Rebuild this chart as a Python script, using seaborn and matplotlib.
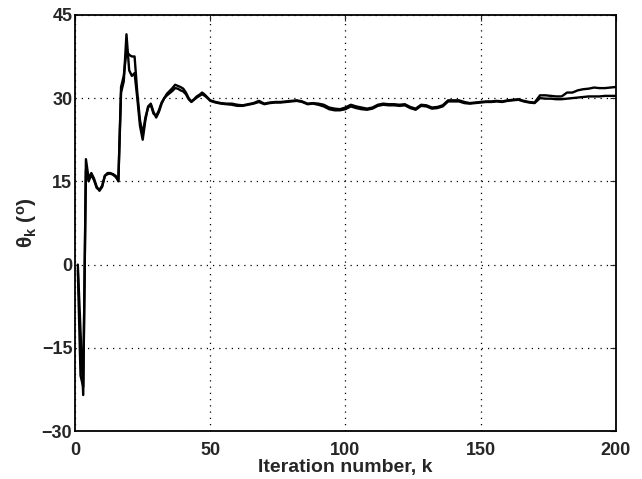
import numpy as np
import pandas as pd
import matplotlib
matplotlib.use('Agg')
import matplotlib.pyplot as plt
import seaborn as sns

# iteration numbers: every step up to 50, then every second one
k_early = list(range(1, 51))
k_late = list(range(52, 201, 2))

# estimate 1 (theta_k in degrees)
theta1_early = [0.0, -12.0, -23.5, 19.0, 15.5, 16.5, 15.5, 14.0, 13.3, 14.0,
                16.0, 16.5, 16.5, 16.3, 16.0, 15.0, 31.0, 33.0, 41.5, 35.0,
                34.0, 34.5, 30.0, 25.0, 22.5, 26.0, 28.5, 29.0, 27.5, 26.5,
                27.5, 29.0, 30.0, 30.8, 31.3, 31.8, 32.4, 32.2, 32.0, 31.7,
                31.0, 30.0, 29.4, 29.8, 30.3, 30.6, 31.0, 30.6, 30.1, 29.6]
theta1_late = [29.3, 29.1, 29.0, 29.0, 28.8, 28.7, 28.9, 29.1, 29.5, 29.0,
               29.2, 29.3, 29.3, 29.4, 29.5, 29.6, 29.4, 29.0, 29.1, 29.0,
               28.8, 28.3, 28.1, 28.0, 28.3, 28.8, 28.5, 28.3, 28.1, 28.3,
               28.8, 29.0, 28.9, 28.9, 28.8, 28.9, 28.4, 28.1, 28.8, 28.7,
               28.3, 28.4, 28.7, 29.6, 29.6, 29.6, 29.3, 29.1, 29.2, 29.3,
               29.4, 29.4, 29.5, 29.4, 29.6, 29.7, 29.8, 29.5, 29.3, 29.2,
               30.5, 30.5, 30.4, 30.3, 30.3, 31.0, 31.0, 31.4, 31.6, 31.7,
               31.9, 31.8, 31.8, 31.9, 32.0]

# estimate 2
theta2_early = [-1.0, -20.0, -22.0, 17.0, 15.0, 16.2, 15.2, 13.8, 13.5, 14.2,
                16.0, 16.3, 16.4, 16.2, 15.8, 15.2, 32.0, 34.0, 38.5, 37.8,
                37.5, 37.5, 31.0, 26.0, 23.5, 26.5, 28.3, 28.8, 27.2, 26.8,
                27.8, 29.2, 30.0, 30.5, 30.9, 31.3, 31.8, 31.7, 31.4, 31.2,
                30.7, 29.8, 29.3, 29.7, 30.1, 30.4, 30.7, 30.4, 30.0, 29.5]
theta2_late = [29.2, 29.0, 28.9, 28.8, 28.6, 28.6, 28.8, 29.0, 29.3, 28.9,
               29.1, 29.2, 29.2, 29.3, 29.4, 29.5, 29.3, 28.9, 29.0, 28.8,
               28.5, 28.0, 27.8, 27.8, 28.0, 28.5, 28.2, 28.0, 27.9, 28.1,
               28.6, 28.8, 28.7, 28.7, 28.6, 28.7, 28.2, 27.9, 28.6, 28.5,
               28.1, 28.2, 28.5, 29.4, 29.4, 29.4, 29.1, 29.0, 29.1, 29.2,
               29.3, 29.3, 29.4, 29.3, 29.5, 29.6, 29.7, 29.4, 29.2, 29.1,
               30.0, 29.9, 29.9, 29.8, 29.8, 29.9, 30.0, 30.1, 30.2, 30.3,
               30.3, 30.3, 30.4, 30.4, 30.4]

x_ticks = [0, 50, 100, 150, 200]
y_ticks = [-30, -15, 0, 15, 30, 45]

k_all = k_early + k_late
df = pd.DataFrame({
    'k': k_all + k_all,
    'theta': theta1_early + theta1_late + theta2_early + theta2_late,
    'est': ['1'] * len(k_all) + ['2'] * len(k_all),
})

sns.set_style('white')
plt.rcParams['font.family'] = ['Liberation Sans', 'DejaVu Sans']
plt.rcParams['mathtext.fontset'] = 'custom'
plt.rcParams['mathtext.bf'] = 'Liberation Sans:bold'

fig = plt.figure(figsize=(6.42, 4.79), dpi=100)
ax = fig.add_axes([0.117, 0.100, 0.842, 0.869])

sns.lineplot(data=df, x='k', y='theta', units='est', estimator=None,
             color='black', linewidth=1.7, ax=ax, legend=False)

ax.set_xlim(0, 200)
ax.set_ylim(-30, 45)
ax.set_xticks(x_ticks)
ax.set_yticks(y_ticks)
ax.set_yticklabels(['\u221230', '\u221215', '0', '15', '30', '45'])
ax.grid(True, color='black', linestyle=(0, (1, 4)), linewidth=0.9)
for s in ax.spines.values():
    s.set_color('black')
    s.set_linewidth(1.3)
ax.tick_params(direction='in', length=4, width=0.8, top=True, right=True,
               labelsize=13)
ax.tick_params(axis='x', pad=8)
ax.tick_params(axis='y', pad=2)
for lab in ax.get_xticklabels() + ax.get_yticklabels():
    lab.set_fontweight('bold')

ax.set_xlabel('Iteration number, k', fontsize=14, fontweight='bold', labelpad=0)
ax.set_ylabel(r'$\mathbf{\theta_k}$ ($\mathbf{^o}$)', fontsize=15,
              fontweight='bold', labelpad=2)

fig.savefig('out.png', dpi=100)
